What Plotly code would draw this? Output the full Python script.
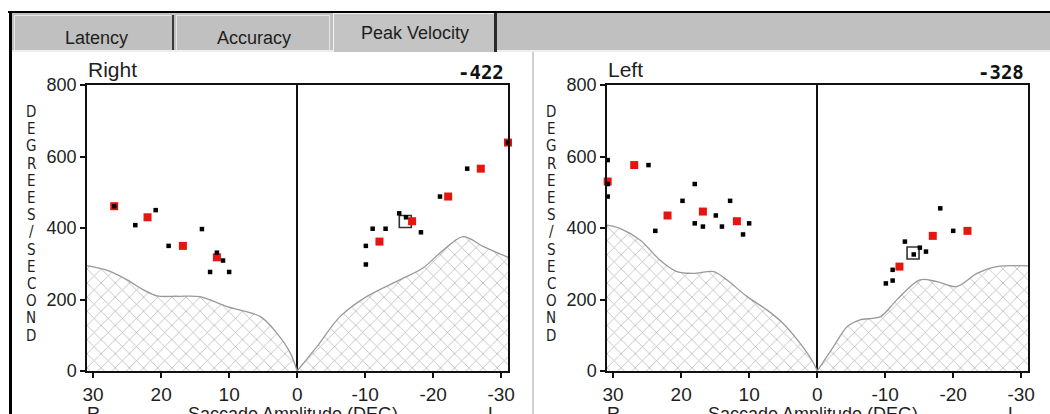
import plotly.graph_objects as go

W, H = 1050, 414

# ---------------- data ----------------
x_ticks = [30, 20, 10, 0, -10, -20, -30]
x_tick_labels = ["30", "20", "10", "0", "-10", "-20", "-30"]
y_ticks = [0, 200, 400, 600, 800]
y_tick_labels = ["0", "200", "400", "600", "800"]
tab_labels = ["Latency", "Accuracy", "Peak Velocity"]
panel_titles = ["Right", "Left"]
panel_values = ["-422", "-328"]
y_label = "DEGREES/SECOND"
x_label = "Saccade Amplitude (DEG)"

right_env_left_x = [30.9, 28, 25, 22.6, 20.6, 17.5, 14.3, 10.3, 5.4, 3, 1, 0]
right_env_left_y = [295, 282, 255, 227, 210, 209, 208, 180, 152, 106, 50, 0]
right_env_right_x = [0, -2.9, -6.3, -10.2, -15.1, -18.5, -21, -24.4, -27.4, -31]
right_env_right_y = [0, 68, 152, 208, 255, 288, 330, 376, 348, 318]
right_red_amp = [26.9, 22, 16.8, 11.8, -12.1, -16.9, -22.2, -27, -31]
right_red_vel = [461, 430, 350, 318, 362, 419, 488, 566, 639]
right_blk_amp = [26.9, 23.8, 20.8, 18.9, 14, 11.8, 10.9, 12.8, 10,
                 -10.1, -10.1, -11.1, -13, -15, -16, -18.2, -21, -25, -31]
right_blk_vel = [461, 408, 450, 350, 397, 331, 309, 277, 277,
                 298, 350, 398, 398, 441, 430, 388, 488, 566, 639]
right_mean_amp = [-15.9]
right_mean_vel = [418]

left_env_left_x = [30.9, 29, 26, 23.1, 20.6, 18.2, 15.2, 13.3, 10.3, 7.4, 5, 2.5, 0.5, 0]
left_env_left_y = [408, 399, 366, 310, 278, 273, 278, 255, 208, 171, 133, 77, 21, 0]
left_env_right_x = [0, -2.4, -4.4, -6.3, -9.3, -11.7, -15.1, -17.6, -20.5, -23.5, -26.4, -31]
left_env_right_y = [0, 68, 124, 143, 152, 199, 255, 250, 236, 273, 292, 294]
left_red_amp = [30.8, 26.9, 22, 16.8, 11.8, -12.1, -17, -22.1]
left_red_vel = [530, 576, 435, 446, 419, 292, 378, 392]
left_blk_amp = [30.8, 30.8, 30.8, 24.8, 23.8, 19.8, 18, 18, 16.8, 14.9, 14, 12.8, 10.9, 10,
                -10.1, -11.1, -11.1, -12.9, -14.2, -15.1, -16, -18.1, -20]
left_blk_vel = [590, 523, 488, 576, 392, 476, 523, 413, 404, 435, 404, 476, 382, 413,
                245, 253, 283, 362, 326, 345, 334, 455, 392]
left_mean_amp = [-14.1]
left_mean_vel = [330]

def px(x):
    return x / W

def py(y):
    return 1 - y / H

FONT = "Liberation Sans, Arial, sans-serif"
NARROW = "Liberation Sans Narrow, DejaVu Sans Condensed, Arial Narrow, sans-serif"
TXT = "#1e1e1e"

fig = go.Figure()

panels = [
    dict(xa="x", ya="y", env=[(right_env_left_x, right_env_left_y), (right_env_right_x, right_env_right_y)],
         red=(right_red_amp, right_red_vel), blk=(right_blk_amp, right_blk_vel),
         mean=(right_mean_amp, right_mean_vel)),
    dict(xa="x2", ya="y2", env=[(left_env_left_x, left_env_left_y), (left_env_right_x, left_env_right_y)],
         red=(left_red_amp, left_red_vel), blk=(left_blk_amp, left_blk_vel),
         mean=(left_mean_amp, left_mean_vel)),
]

for p in panels:
    for ex, ey in p["env"]:
        fig.add_trace(go.Scatter(
            x=ex, y=ey, xaxis=p["xa"], yaxis=p["ya"], mode="lines",
            line=dict(color="#999999", width=1.3, shape="spline", smoothing=0.9),
            fill="tozeroy",
            fillpattern=dict(shape="x", fgcolor="#6e6e6e", bgcolor="#ffffff", size=10, solidity=0.15),
            hoverinfo="skip", showlegend=False))
    fig.add_trace(go.Scatter(
        x=p["mean"][0], y=p["mean"][1], xaxis=p["xa"], yaxis=p["ya"], mode="markers",
        marker=dict(symbol="square-open", size=12, color="#333333", line=dict(width=1.6)),
        showlegend=False, cliponaxis=False))
    fig.add_trace(go.Scatter(
        x=p["red"][0], y=p["red"][1], xaxis=p["xa"], yaxis=p["ya"], mode="markers",
        marker=dict(symbol="square", size=8, color="#e8140f", line=dict(width=0)),
        showlegend=False, cliponaxis=False))
    fig.add_trace(go.Scatter(
        x=p["blk"][0], y=p["blk"][1], xaxis=p["xa"], yaxis=p["ya"], mode="markers",
        marker=dict(symbol="square", size=4.5, color="#000000", line=dict(width=0)),
        showlegend=False, cliponaxis=False))

axis_common_x = dict(
    range=[30.9, -31], tickmode="array", tickvals=x_ticks, ticktext=x_tick_labels,
    ticks="outside", ticklen=5, tickwidth=1.5, tickcolor="#111",
    showline=True, linecolor="#111", linewidth=1.5, mirror=True,
    showgrid=False, zeroline=True, zerolinecolor="#111", zerolinewidth=1.5,
    tickfont=dict(family=FONT, size=19, color=TXT), fixedrange=True, automargin=False)
axis_common_y = dict(
    range=[0, 800], tickmode="array", tickvals=y_ticks, ticktext=y_tick_labels,
    ticks="outside", ticklen=5, tickwidth=1.5, tickcolor="#111",
    showline=True, linecolor="#111", linewidth=1.5, mirror=True,
    showgrid=False, zeroline=False,
    tickfont=dict(family=FONT, size=18, color=TXT), fixedrange=True, automargin=False)

yd = [py(371), py(85)]
fig.update_layout(
    width=W, height=H, autosize=False,
    margin=dict(l=0, r=0, t=0, b=0, pad=0, autoexpand=False),
    paper_bgcolor="white", plot_bgcolor="white",
    xaxis=dict(domain=[px(87), px(508)], anchor="y", **axis_common_x),
    yaxis=dict(domain=yd, anchor="x", **axis_common_y),
    xaxis2=dict(domain=[px(607), px(1028)], anchor="y2", **axis_common_x),
    yaxis2=dict(domain=yd, anchor="x2", **axis_common_y),
)

shapes = []
def rect(x0, y0, x1, y1, color, layer="below"):
    shapes.append(dict(type="rect", xref="paper", yref="paper",
                       x0=px(x0), x1=px(x1), y0=py(y1), y1=py(y0),
                       fillcolor=color, line=dict(width=0), layer=layer))

rect(10, 13, 1050, 52, "#c0c0c0")
rect(8, 11, 1050, 13, "#000000")
rect(9, 11, 12, 414, "#000000")
rect(12, 50, 333, 52, "#eeeeee")
rect(497, 50, 1050, 52, "#eeeeee")
rect(14, 15, 171, 16, "#e6e6e6")
rect(14, 15, 15, 50, "#e6e6e6")
rect(172, 15, 174, 50, "#3a3a3a")
rect(176, 15, 330, 16, "#e6e6e6")
rect(176, 15, 177, 50, "#e6e6e6")
rect(329, 15, 330, 50, "#e6e6e6")
rect(333, 13, 495, 52, "#c4c4c4")
rect(333, 13, 495, 14, "#f0f0f0")
rect(333, 13, 334, 52, "#f0f0f0")
rect(494, 13, 497, 52, "#2a2a2a")
rect(532, 52, 534, 414, "#d0d0d0")
fig.update_layout(shapes=shapes)

ann = []
def text(x, y, s, size, xanchor="center", yanchor="middle", family=FONT, color=TXT):
    ann.append(dict(xref="paper", yref="paper", x=px(x), y=py(y), text=s, showarrow=False,
                    xanchor=xanchor, yanchor=yanchor, font=dict(family=family, size=size, color=color)))

text(96, 38, tab_labels[0], 18)
text(254, 38, tab_labels[1], 18)
text(415, 33, tab_labels[2], 18)

letter_step = 17.2
for i, (x0, x1) in enumerate([(87, 508), (607, 1028)]):
    text(x0 - 1, 70, panel_titles[i], 21, xanchor="left")
    text(x1 - 2, 72, "<b>" + panel_values[i] + "</b>", 19, xanchor="right",
         family="DejaVu Sans Mono, monospace", color="#111")
    for k, ch in enumerate(y_label):
        text(x0 - 56, 112 + k * letter_step, ch, 15, family=NARROW)
    center = (x0 + x1) / 2
    text(x0 + 6, 402, "R", 18, yanchor="top")
    text(center - 5, 402, x_label, 18, yanchor="top")
    text(x1 - 15, 402, "L", 18, yanchor="top")

fig.update_layout(annotations=ann)

post = "document.body.style.margin='0';document.body.style.padding='0';document.documentElement.style.overflow='hidden';"
fig.write_html("out.html", post_script=post, config={"displayModeBar": False})
